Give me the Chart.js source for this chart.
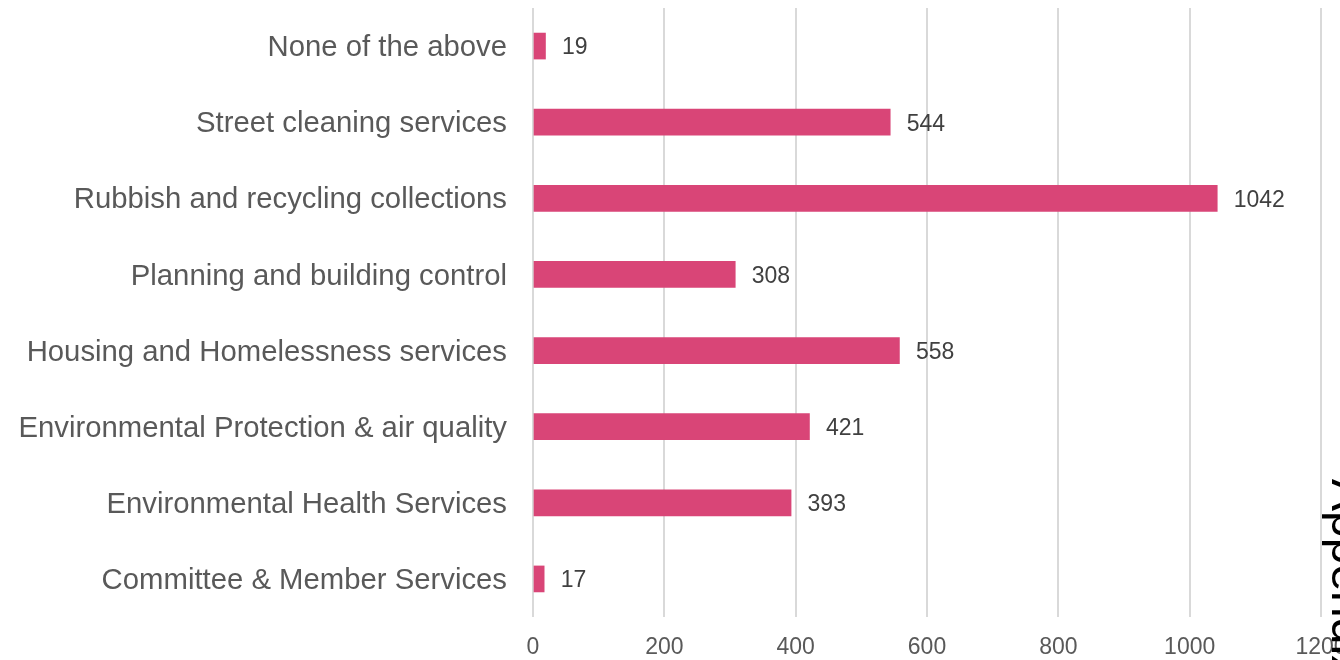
<!DOCTYPE html>
<html>
<head>
<meta charset="utf-8">
<title>Service areas</title>
<script src="https://cdn.jsdelivr.net/npm/chart.js@4/dist/chart.umd.min.js"></script>
<style>
  html, body { margin: 0; padding: 0; background: #fff; }
  #wrap { position: relative; width: 1340px; height: 660px; overflow: hidden; }
</style>
</head>
<body>
<div id="wrap"><canvas id="services_chart"></canvas></div>
<script>
// Categories, top to bottom
const services = [
    'None of the above',
    'Street cleaning services',
    'Rubbish and recycling collections',
    'Planning and building control',
    'Housing and Homelessness services',
    'Environmental Protection & air quality',
    'Environmental Health Services',
    'Committee & Member Services'
];
const responses = [19, 544, 1042, 308, 558, 421, 393, 17];
const axisTicks = [0, 200, 400, 600, 800, 1000, 1200];
const sideTitle = 'Appendix';

const FONT = "'Liberation Sans', Arial, sans-serif";

// Writes the count just past the end of each bar
const valueLabels = {
    id: 'valueLabels',
    afterDatasetsDraw(chart) {
        const ctx = chart.ctx;
        const meta = chart.getDatasetMeta(0);
        ctx.save();
        ctx.font = '23px ' + FONT;
        ctx.fillStyle = '#404040';
        ctx.textAlign = 'left';
        ctx.textBaseline = 'middle';
        meta.data.forEach(function(bar, i) {
            ctx.fillText(String(responses[i]), bar.x + 16.5, bar.y + 2);
        });
        ctx.restore();
    }
};

// Rotated section title along the right edge
const sideHeading = {
    id: 'sideHeading',
    afterDraw(chart) {
        const ctx = chart.ctx;
        ctx.save();
        ctx.translate(1332, 479);
        ctx.rotate(Math.PI / 2);
        ctx.font = '48px ' + FONT;
        ctx.fillStyle = '#000';
        ctx.textAlign = 'left';
        ctx.textBaseline = 'alphabetic';
        ctx.fillText(sideTitle, 0, 0);
        ctx.restore();
    }
};

const ctx = document.getElementById('services_chart').getContext('2d');
new Chart(ctx, {
    type: 'bar',
    data: {
        labels: services,
        datasets: [{
            data: responses,
            backgroundColor: '#d94577',
            borderWidth: 0,
            barThickness: 26
        }]
    },
    options: {
        indexAxis: 'y',
        responsive: true,
        maintainAspectRatio: false,
        animation: false,
        layout: {
            padding: { top: 8, right: 19, left: 0, bottom: 0 }
        },
        plugins: {
            legend: { display: false },
            tooltip: { enabled: false }
        },
        scales: {
            x: {
                min: axisTicks[0],
                max: axisTicks[axisTicks.length - 1],
                afterBuildTicks: function(scale) {
                    scale.ticks = axisTicks.map(function(v) { return { value: v }; });
                },
                afterFit: function(scale) {
                    scale.height = 43;
                    scale.paddingLeft = 0;
                    scale.paddingRight = 0;
                },
                border: { display: false },
                grid: {
                    color: '#d9d9d9',
                    lineWidth: 2,
                    drawTicks: false
                },
                ticks: {
                    padding: 17,
                    color: '#595959',
                    font: { family: FONT, size: 23 },
                    callback: function(value) {
                        return String(value);
                    }
                }
            },
            y: {
                afterFit: function(scale) {
                    scale.width = 533;
                    scale.paddingTop = 0;
                    scale.paddingBottom = 0;
                },
                border: { display: false },
                grid: { display: false, drawTicks: false },
                ticks: {
                    padding: 26,
                    labelOffset: 2,
                    color: '#595959',
                    font: { family: FONT, size: 29.3 }
                }
            }
        }
    },
    plugins: [valueLabels, sideHeading]
});
</script>
</body>
</html>
